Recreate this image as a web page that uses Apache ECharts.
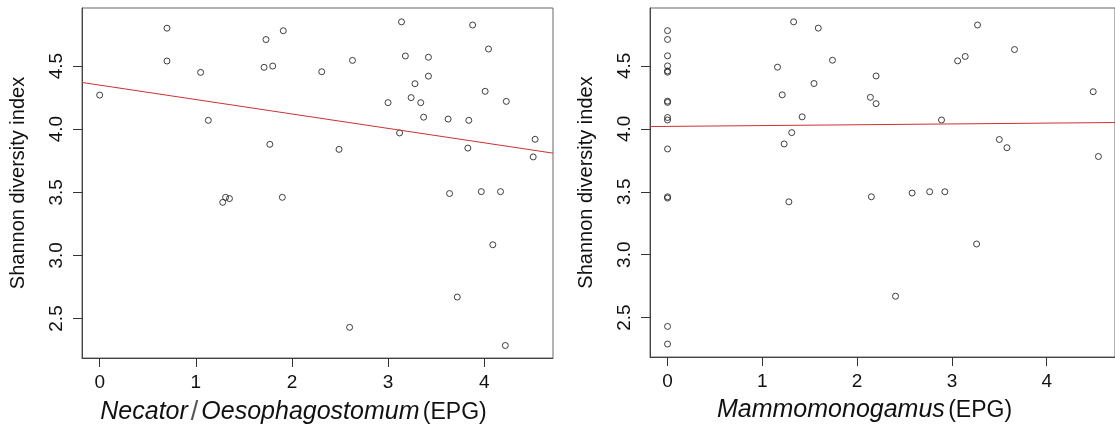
<!DOCTYPE html>
<html>
<head>
<meta charset="utf-8">
<script src="https://cdn.jsdelivr.net/npm/echarts@6/dist/echarts.min.js"></script>
<style>
  html, body { margin: 0; padding: 0; background: #fff; }
  #chart { width: 1115px; height: 432px; }
</style>
</head>
<body>
<div id="chart"></div>
<script>
// left panel: Necator/Oesophagostomum EPG vs Shannon index
const leftX = [0, 0.70, 0.70, 1.05, 1.13, 1.73, 1.71, 1.80, 1.77, 1.28, 1.31, 1.35, 1.91, 2.31, 2.63, 2.49, 1.90,
    3.14, 3.18, 3.42, 3.42, 3.28, 3.24, 3.34, 3.00, 3.37, 3.625, 3.84, 3.12, 3.83, 3.88, 4.045, 4.01, 4.23,
    4.53, 4.51, 3.64, 3.97, 4.17, 4.09, 3.72, 2.60, 4.22];
const leftY = [4.27, 4.80, 4.54, 4.45, 4.07, 4.71, 4.49, 4.50, 3.88, 3.42, 3.46, 3.45, 4.78, 4.455, 4.545, 3.84, 3.46,
    4.85, 4.58, 4.57, 4.42, 4.36, 4.25, 4.21, 4.21, 4.095, 4.08, 4.07, 3.97, 3.85, 4.825, 4.635, 4.30, 4.22,
    3.92, 3.78, 3.49, 3.505, 3.505, 3.084, 2.67, 2.43, 2.286];

// right panel: Mammomonogamus EPG vs Shannon index
const rightX = [0, 0, 0, 0, 0, 0, 0, 0, 0, 0, 0, 0, 0, 0, 0,
    1.33, 1.59, 1.74, 1.16, 1.545, 1.21, 1.42, 1.31, 1.23, 1.28,
    2.20, 2.14, 2.20, 2.89, 3.27, 3.06, 3.14, 3.66, 4.49, 3.50, 3.58, 4.545,
    2.15, 2.58, 2.765, 2.925, 3.26, 2.405];
const rightY = [4.78, 4.71, 4.58, 4.50, 4.45, 4.46, 4.21, 4.22, 4.07, 4.09, 3.84, 3.45, 3.46, 2.43, 2.29,
    4.85, 4.80, 4.545, 4.49, 4.36, 4.27, 4.095, 3.97, 3.88, 3.42,
    4.42, 4.25, 4.20, 4.07, 4.825, 4.54, 4.575, 4.63, 4.295, 3.915, 3.85, 3.78,
    3.46, 3.49, 3.50, 3.50, 3.085, 2.67];

// fitted lines, given as [x, y] at the ends of each x range
const leftFitX = [-0.184, 4.716];
const leftFitY = [4.37, 3.81];
const rightFitX = [-0.185, 4.72];
const rightFitY = [4.018, 4.05];

const xTicks = [0, 1, 2, 3, 4];
const yTicks = [2.5, 3.0, 3.5, 4.0, 4.5];
const yTitle = 'Shannon diversity index';

const font = 'Liberation Sans, Arial, sans-serif';
const chart = echarts.init(document.getElementById('chart'));

function pairs(xs, ys) {
    return xs.map((x, i) => [x, ys[i]]);
}

function xAxisOf(idx, min, max, name, pad) {
    return {
        type: 'value', gridIndex: idx, min: min, max: max,
        splitLine: {show: false},
        axisLine: {show: true, onZero: false, lineStyle: {color: '#444'}},
        axisTick: {show: true, length: 9, customValues: xTicks, lineStyle: {color: '#333', width: 1}},
        axisLabel: {customValues: xTicks, margin: 15, fontSize: 19, fontFamily: font, color: '#111'},
        name: name, nameLocation: 'middle', nameGap: 41,
        nameTextStyle: {
            padding: pad,
            rich: {
                i: {fontStyle: 'italic', fontSize: 25, fontFamily: font, color: '#111'},
                s: {fontSize: 27, fontFamily: font, color: '#555', padding: [0, 3, 0, 3]},
                n: {fontSize: 23, fontFamily: font, color: '#111'}
            }
        }
    };
}

function yAxisOf(idx) {
    return {
        type: 'value', gridIndex: idx, min: 2.187, max: 4.96,
        splitLine: {show: false},
        axisLine: {show: true, onZero: false, lineStyle: {color: '#444'}},
        axisTick: {show: true, length: 9, customValues: yTicks, lineStyle: {color: '#333', width: 1}},
        axisLabel: {
            customValues: yTicks, rotate: 90, margin: 16, fontSize: 19, fontFamily: font, color: '#111',
            formatter: v => v.toFixed(1)
        },
        name: yTitle, nameLocation: 'middle', nameGap: 54,
        nameTextStyle: {fontSize: 20, fontFamily: font, color: '#111'}
    };
}

function pointsOf(idx, xs, ys) {
    return {
        type: 'scatter', xAxisIndex: idx, yAxisIndex: idx,
        data: pairs(xs, ys),
        symbol: 'circle', symbolSize: 6,
        itemStyle: {color: 'rgba(0,0,0,0)', borderColor: '#111', borderWidth: 1},
        silent: true
    };
}

function fitOf(idx, xs, ys) {
    return {
        type: 'line', xAxisIndex: idx, yAxisIndex: idx,
        data: pairs(xs, ys),
        showSymbol: false, silent: true,
        lineStyle: {color: '#cc3333', width: 1}
    };
}

const option = {
    backgroundColor: '#fff',
    animation: false,
    grid: [
        {left: 82, top: 8, width: 471, height: 350, show: true, borderColor: '#666', borderWidth: 1},
        {left: 650, top: 8, width: 469, height: 349, show: true, borderColor: '#666', borderWidth: 1}
    ],
    xAxis: [
        xAxisOf(0, -0.184, 4.716, '{i|Necator}{s|/}{i|Oesophagostomum} {n|(EPG)}', [0, 48, 0, 0]),
        xAxisOf(1, -0.185, 4.72, '{i|Mammomonogamus} {n|(EPG)}', [0, 36, 0, 0])
    ],
    yAxis: [yAxisOf(0), yAxisOf(1)],
    series: [
        fitOf(0, leftFitX, leftFitY),
        pointsOf(0, leftX, leftY),
        fitOf(1, rightFitX, rightFitY),
        pointsOf(1, rightX, rightY)
    ]
};

chart.setOption(option);
window.addEventListener('resize', chart.resize);
</script>
</body>
</html>
